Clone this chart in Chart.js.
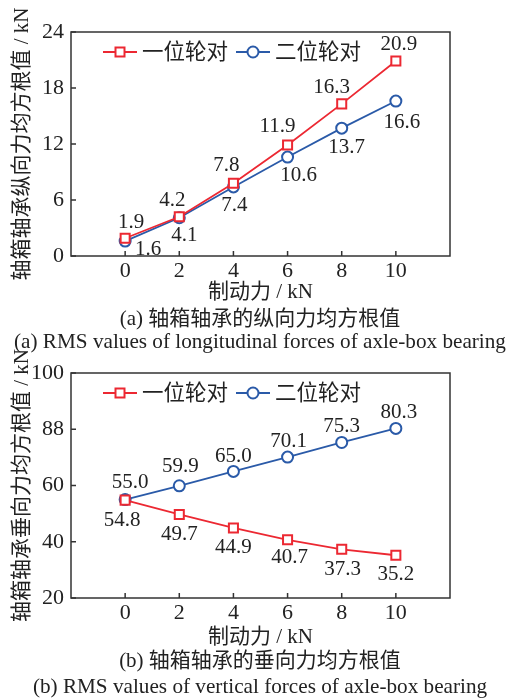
<!DOCTYPE html>
<html>
<head>
<meta charset="utf-8">
<script src="https://cdn.jsdelivr.net/npm/chart.js@4.4.1/dist/chart.umd.min.js"></script>
<style>
  html, body { margin: 0; padding: 0; background: #fff; }
  body { width: 516px; height: 700px; position: relative; overflow: hidden; }
  canvas { position: absolute; left: 0; }
  .cap {
    position: absolute; left: 260px; transform: translateX(-50%);
    white-space: nowrap; color: #222;
    font-family: "Liberation Serif", "Noto Sans CJK SC", serif; font-size: 21.2px;
    line-height: 24px;
  }
  .cap.zh { font-size: 21px; }
</style>
</head>
<body>
<canvas id="chartA" width="516" height="310" style="top:0px"></canvas>
<canvas id="chartB" width="516" height="310" style="top:345px"></canvas>
<div class="cap zh" style="top:306px">(a) 轴箱轴承的纵向力均方根值</div>
<div class="cap" style="top:329px">(a) RMS values of longitudinal forces of axle-box bearing</div>
<div class="cap zh" style="top:648px">(b) 轴箱轴承的垂向力均方根值</div>
<div class="cap" style="top:674px">(b) RMS values of vertical forces of axle-box bearing</div>
<script>
// 制动力 (kN)
const brakeForce = [0, 2, 4, 6, 8, 10];
const seriesNames = ['一位轮对', '二位轮对'];

// (a) 纵向力均方根值
const longWheel1 = [1.9, 4.2, 7.8, 11.9, 16.3, 20.9];
const longWheel2 = [1.6, 4.1, 7.4, 10.6, 13.7, 16.6];
const longTicks = [0, 6, 12, 18, 24];
const longTickLabels = ['0', '6', '12', '18', '24'];

// (b) 垂向力均方根值
const vertWheel1 = [54.8, 49.7, 44.9, 40.7, 37.3, 35.2];
const vertWheel2 = [55.0, 59.9, 65.0, 70.1, 75.3, 80.3];
const vertTicks = [20, 40, 60, 80, 100];
const vertTickLabels = ['20', '40', '60', '88', '100'];

const RED = '#ec2832';
const BLUE = '#2a5aa8';
const TEXT = '#222';
const FONT = '"Liberation Serif", "Noto Sans CJK SC", serif';

// label offsets [dx, dy] relative to each point
const longOff1 = [[6, -16], [-7, -16], [-7, -18], [-10, -18], [-10, -16], [3, -16]];
const longOff2 = [[23, 8], [5, 18], [1, 19], [11, 18], [5, 19], [6, 21]];
const vertOff1 = [[-3, 20], [0, 20], [0, 20], [2, 18], [1, 20], [0, 19]];
const vertOff2 = [[5, -17], [1, -19], [0, -15], [1, -16], [0, -16], [3, -16]];

// frame + inward tick marks
const framePlugin = {
  id: 'frame',
  afterDatasetsDraw(chart) {
    const { ctx, chartArea: a, scales } = chart;
    ctx.save();
    ctx.strokeStyle = '#333';
    ctx.lineWidth = 1.5;
    ctx.strokeRect(a.left, a.top, a.right - a.left, a.bottom - a.top);
    ctx.beginPath();
    scales.x.ticks.forEach(t => {
      const x = scales.x.getPixelForValue(t.value);
      ctx.moveTo(x, a.bottom); ctx.lineTo(x, a.bottom - 5);
    });
    scales.y.ticks.forEach(t => {
      const y = scales.y.getPixelForValue(t.value);
      ctx.moveTo(a.left, y); ctx.lineTo(a.left + 5, y);
    });
    ctx.stroke();
    ctx.restore();
  }
};

// value labels beside each point
const valueLabels = {
  id: 'valueLabels',
  afterDatasetsDraw(chart, args, opts) {
    const { ctx } = chart;
    ctx.save();
    ctx.font = '21px ' + FONT;
    ctx.fillStyle = TEXT;
    ctx.textAlign = 'center';
    ctx.textBaseline = 'middle';
    chart.data.datasets.forEach((ds, i) => {
      const meta = chart.getDatasetMeta(i);
      meta.data.forEach((pt, j) => {
        const off = opts.offsets[i][j];
        ctx.fillText(ds.data[j].y.toFixed(1), pt.x + off[0], pt.y + off[1]);
      });
    });
    ctx.restore();
  }
};

// legend: line with marker, then name
const lineLegend = {
  id: 'lineLegend',
  afterDatasetsDraw(chart, args, opts) {
    const { ctx, chartArea: a } = chart;
    const y = a.top + opts.dy;
    let x = a.left + 32;
    ctx.save();
    ctx.font = '21.5px ' + FONT;
    ctx.textBaseline = 'middle';
    chart.data.datasets.forEach(ds => {
      ctx.strokeStyle = ds.borderColor;
      ctx.lineWidth = 1.8;
      ctx.beginPath(); ctx.moveTo(x, y); ctx.lineTo(x + 34, y); ctx.stroke();
      ctx.fillStyle = '#fff';
      ctx.lineWidth = 2;
      if (ds.pointStyle === 'rect') {
        ctx.fillRect(x + 12.5, y - 4.5, 9, 9);
        ctx.strokeRect(x + 12.5, y - 4.5, 9, 9);
      } else {
        ctx.beginPath(); ctx.arc(x + 17, y, 5.5, 0, Math.PI * 2); ctx.fill(); ctx.stroke();
      }
      ctx.fillStyle = TEXT;
      ctx.fillText(ds.label, x + 39, y + 1);
      x += 133;
    });
    ctx.restore();
  }
};

function makeDataset(label, values, color, style) {
  return {
    label: label,
    data: brakeForce.map((v, i) => ({ x: v, y: values[i] })),
    borderColor: color,
    backgroundColor: '#fff',
    borderWidth: 1.8,
    pointStyle: style,
    pointRadius: style === 'rect' ? 6.4 : 5.5,
    pointBorderWidth: 2,
    pointBackgroundColor: '#fff',
    pointBorderColor: color,
    tension: 0
  };
}

function makeChart(id, sets, ticks, tickLabels, yTitle, top, xHeight, offsets, legendDy) {
  return new Chart(document.getElementById(id), {
    type: 'line',
    data: { datasets: sets },
    plugins: [framePlugin, valueLabels, lineLegend],
    options: {
      responsive: false,
      animation: false,
      layout: { padding: { top: top, right: 66, left: 0, bottom: 0 } },
      plugins: {
        legend: { display: false },
        tooltip: { enabled: false },
        valueLabels: { offsets: offsets },
        lineLegend: { dy: legendDy }
      },
      scales: {
        x: {
          type: 'linear', min: -2, max: 12,
          afterBuildTicks: s => { s.ticks = brakeForce.map(v => ({ value: v })); },
          afterFit: s => { s.height = xHeight; },
          grid: { display: false, drawTicks: false },
          border: { display: false },
          ticks: { color: TEXT, font: { family: FONT, size: 22 }, padding: 2, maxRotation: 0 },
          title: {
            display: true, text: '制动力 / kN', color: TEXT,
            font: { family: FONT, size: 21 }, padding: { top: 0, bottom: 5 }
          }
        },
        y: {
          min: ticks[0], max: ticks[ticks.length - 1],
          afterBuildTicks: s => { s.ticks = ticks.map(v => ({ value: v })); },
          afterFit: s => { s.width = 71; },
          grid: { display: false, drawTicks: false },
          border: { display: false },
          ticks: {
            color: TEXT, font: { family: FONT, size: 22 }, padding: 7,
            callback: (v, i) => tickLabels[i]
          },
          title: {
            display: true, text: yTitle, color: TEXT,
            font: { family: FONT, size: 21 }, padding: { top: 10, bottom: 0 }
          }
        }
      }
    }
  });
}

makeChart('chartA',
  [makeDataset(seriesNames[0], longWheel1, RED, 'rect'), makeDataset(seriesNames[1], longWheel2, BLUE, 'circle')],
  longTicks, longTickLabels, '轴箱轴承纵向力均方根值 / kN', 32, 54, [longOff1, longOff2], 20);

makeChart('chartB',
  [makeDataset(seriesNames[0], vertWheel1, RED, 'rect'), makeDataset(seriesNames[1], vertWheel2, BLUE, 'circle')],
  vertTicks, vertTickLabels, '轴箱轴承垂向力均方根值 / kN', 28, 57, [vertOff1, vertOff2], 20);
</script>
</body>
</html>
